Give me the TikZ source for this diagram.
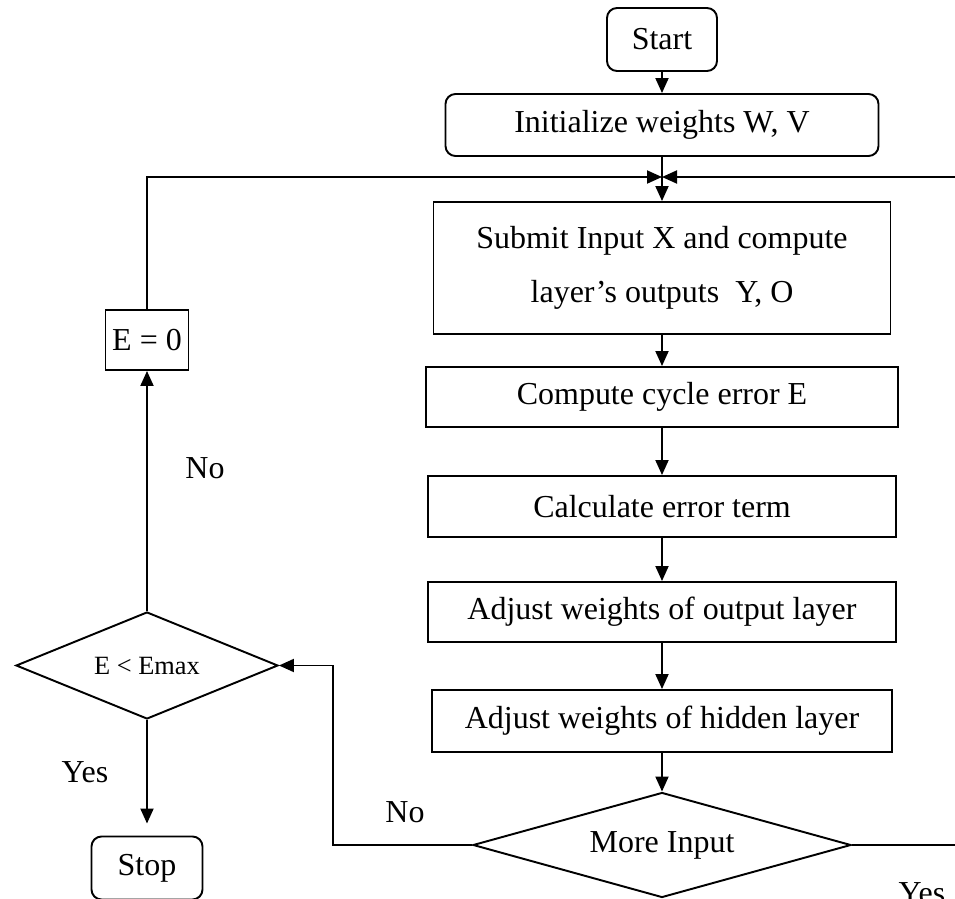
\documentclass[tikz,border=0pt]{standalone}
\usepackage{fontspec}
\setmainfont{Liberation Serif}
\usetikzlibrary{arrows.meta,shapes.geometric}

\begin{document}
\begin{tikzpicture}
		\useasboundingbox (0,0) rectangle (19.1,-17.98);
		\begin{scope}[every node/.style={draw,line width=1.1pt,inner sep=0pt,align=center,
					  font=\fontsize{18.2}{22}\selectfont}]
			\node[rounded corners=0.2cm,minimum width=2.2cm,minimum height=1.26cm] (start) at (13.24,-0.79) {Start};
			\node[rounded corners=0.2cm,minimum width=8.66cm,minimum height=1.24cm] (init) at (13.24,-2.5) {Initialize weights W, V};

			\node[minimum width=9.14cm,minimum height=2.64cm,font=\fontsize{18.2}{30.6}\selectfont] (submit) at (13.24,-5.36) {Submit Input X and compute\\layer’s outputs~~Y, O};
			\node[minimum width=9.44cm,minimum height=1.2cm] (cycle) at (13.24,-7.94) {Compute cycle error E};
			\node[minimum width=9.36cm,minimum height=1.22cm] (term) at (13.24,-10.13) {Calculate error term};
			\node[minimum width=9.36cm,minimum height=1.2cm] (outw) at (13.24,-12.24) {Adjust weights of output layer};
			\node[minimum width=9.2cm,minimum height=1.24cm] (hidw) at (13.24,-14.42) {Adjust weights of hidden layer};
			\node[diamond,aspect=3.6,minimum width=7.56cm,minimum height=2.1cm] (more) at (13.24,-16.9) {More Input};

			\node[minimum width=1.66cm,minimum height=1.2cm] (ezero) at (2.94,-6.8) {E = 0};
			\node[diamond,aspect=2.45,minimum width=5.24cm,minimum height=2.14cm,
				  font=\fontsize{15}{18}\selectfont] (emax) at (2.94,-13.31) {E < Emax};
			\node[rounded corners=0.2cm,minimum width=2.22cm,minimum height=1.26cm] (stop) at (2.94,-17.36) {Stop};
		\end{scope}

		\coordinate (join) at (13.24,-3.54);
		\coordinate (nobend) at (6.66,-16.9);
		\coordinate (yesbend) at (19.4,-16.9);

		\begin{scope}[>={Triangle[length=0.3cm,width=0.26cm]},line width=1.1pt,
					  every node/.style={font=\fontsize{18.2}{22}\selectfont}]
			\path [->] (start) edge (init);
			\path [->] (init) edge (submit);
			\path [->] (submit) edge (cycle);
			\path [->] (cycle) edge (term);
			\path [->] (term) edge (outw);
			\path [->] (outw) edge (hidw);
			\path [->] (hidw) edge (more);

			\path [->] (emax) edge (ezero);
			\path [->] (emax) edge[shorten >=0.24cm] (stop);

			\draw [->] (ezero.north) |- (join);
			\draw [->] (more.east) -- (yesbend) |- (join);
			\draw [->] (more.west) -- (nobend) |- (emax.east);

			\node (noup) at (4.1,-9.36) {No};
			\node (yesleft) at (1.7,-15.44) {Yes};
			\node (nodown) at (8.1,-16.24) {No};
			\node (yesright) at (18.44,-17.86) {Yes};
		\end{scope}
\end{tikzpicture}
\end{document}
